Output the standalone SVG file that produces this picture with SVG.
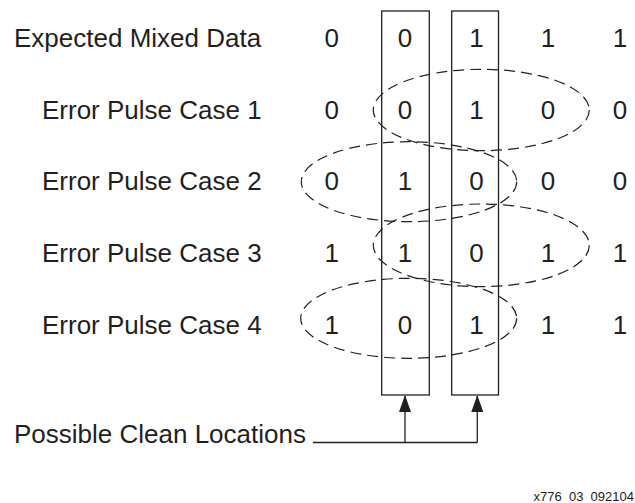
<svg xmlns="http://www.w3.org/2000/svg" width="635" height="503" viewBox="0 0 635 503">
<style>
text{font-family:"Liberation Sans",Arial,sans-serif;fill:#231f20}
.lbl{font-size:26px}
.d{font-size:26px;text-anchor:middle}
.ft{font-size:13px;text-anchor:end}
.box{fill:none;stroke:#231f20;stroke-width:1.3}
.ell{fill:none;stroke:#231f20;stroke-width:1.2;stroke-dasharray:11 6}
.ln{fill:none;stroke:#231f20;stroke-width:1.3}
</style>
<defs>
<marker id="ah" markerWidth="12" markerHeight="17" refX="6" refY="1" orient="0" markerUnits="userSpaceOnUse">
<path d="M0,17 L6,0 L12,17 Z" fill="#231f20"/>
</marker>
</defs>
<g id="labels">
<text class="lbl" x="14" y="47">Expected Mixed Data</text>
<text class="lbl" x="42" y="118.5">Error Pulse Case 1</text>
<text class="lbl" x="42" y="190">Error Pulse Case 2</text>
<text class="lbl" x="42" y="262">Error Pulse Case 3</text>
<text class="lbl" x="42" y="333.5">Error Pulse Case 4</text>
<text class="lbl" x="14" y="443">Possible Clean Locations</text>
</g>
<g id="row0">
<text class="d" x="331.7" y="47">0</text><text class="d" x="405" y="47">0</text><text class="d" x="476.5" y="47">1</text><text class="d" x="548" y="47">1</text><text class="d" x="620" y="47">1</text>
</g>
<g id="row1">
<text class="d" x="331.7" y="118.5">0</text><text class="d" x="405" y="118.5">0</text><text class="d" x="476.5" y="118.5">1</text><text class="d" x="548" y="118.5">0</text><text class="d" x="620" y="118.5">0</text>
</g>
<g id="row2">
<text class="d" x="331.7" y="190">0</text><text class="d" x="405" y="190">1</text><text class="d" x="476.5" y="190">0</text><text class="d" x="548" y="190">0</text><text class="d" x="620" y="190">0</text>
</g>
<g id="row3">
<text class="d" x="331.7" y="262">1</text><text class="d" x="405" y="262">1</text><text class="d" x="476.5" y="262">0</text><text class="d" x="548" y="262">1</text><text class="d" x="620" y="262">1</text>
</g>
<g id="row4">
<text class="d" x="331.7" y="333.5">1</text><text class="d" x="405" y="333.5">0</text><text class="d" x="476.5" y="333.5">1</text><text class="d" x="548" y="333.5">1</text><text class="d" x="620" y="333.5">1</text>
</g>
<g id="clean-col-1"><rect class="box" x="381.7" y="11" width="47.6" height="384"/></g>
<g id="clean-col-2"><rect class="box" x="451.7" y="11" width="46.8" height="384"/></g>
<g id="pulses">
<ellipse class="ell" cx="481.3" cy="110" rx="108" ry="40.7"/>
<ellipse class="ell" cx="409" cy="181.7" rx="107.7" ry="40"/>
<ellipse class="ell" cx="481.3" cy="245.3" rx="108" ry="41.3"/>
<ellipse class="ell" cx="408.7" cy="318.3" rx="108" ry="40"/>
</g>
<g id="connectors">
<path class="ln" d="M313,442.5 H477.3"/>
<path class="ln" d="M405,442.5 V396" marker-end="url(#ah)"/>
<path class="ln" d="M477.3,442.5 V396" marker-end="url(#ah)"/>
</g>
<text class="ft" x="634" y="501">x776_03_092104</text>
</svg>
